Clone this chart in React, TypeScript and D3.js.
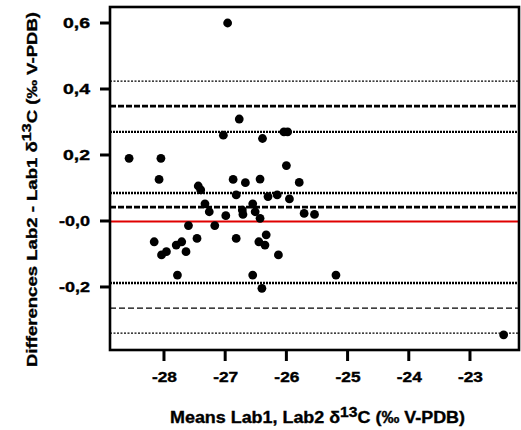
import React from "react";
import * as d3 from "d3";

const meanVals = [
  -28.57, -28.05, -28.08, -27.44, -27.40, -26.87, -26.82, -27.33, -27.26, -26.99,
  -27.60, -27.17, -26.39, -27.03, -26.77, -26.04, -25.98, -26.00, -25.79, -26.43,
  -26.67, -26.30, -26.15, -25.95, -25.71, -25.54, -26.72, -26.55, -26.51, -26.43,
  -28.16, -28.04, -27.96, -27.80, -27.71, -27.64, -27.46, -26.82, -27.78, -26.45,
  -26.33, -26.35, -26.13, -26.55, -26.40, -25.19, -22.45, -26.96, -26.71,
];
const diffVals = [
  0.19, 0.19, 0.126, 0.106, 0.094, 0.126, 0.079, 0.052, 0.028, 0.016,
  -0.014, -0.014, 0.25, 0.26, 0.309, 0.27, 0.27, 0.168, 0.117, 0.127,
  0.116, 0.074, 0.079, 0.067, 0.023, 0.02, 0.033, 0.052, 0.028, 0.008,
  -0.063, -0.103, -0.093, -0.073, -0.063, -0.093, -0.053, -0.053, -0.164, -0.063,
  -0.042, -0.073, -0.103, -0.164, -0.204, -0.164, -0.345, 0.6, 0.02,
];

const xTicks = [-28, -27, -26, -25, -24, -23];
const yTicks = [0.6, 0.4, 0.2, 0.0, -0.2];
const yTickLabels = ["0,6", "0,4", "0,2", "-0,0", "-0,2"];
const xDomain = [-28.882, -22.199];
const yDomain = [-0.391, 0.6485];

// reference lines: value, style
const refVals = [0.424, 0.348, 0.27, 0.085, 0.042, -0.188, -0.264, -0.34];
const refKinds = ["thinDot", "boldDash", "boldDot", "boldDot", "boldDash", "boldDot", "thinDash", "thinDot"];
const zeroVal = [0];

const L = 110, R = 519, T = 7, B = 350;

export default function App() {
  const x = d3.scaleLinear().domain(xDomain).range([L, R]);
  const y = d3.scaleLinear().domain(yDomain).range([B, T]);
  const font = "'Liberation Sans', Arial, sans-serif";

  const styleFor = (k: string) => {
    switch (k) {
      case "thinDot": return { w: 1.4, d: "2,1.5", c: "#000" };
      case "boldDash": return { w: 2.6, d: "6,2", c: "#000" };
      case "boldDot": return { w: 2.4, d: "2,1", c: "#000" };
      case "thinDash": return { w: 1.4, d: "6,3", c: "#000" };
      default: return { w: 1, d: "", c: "#000" };
    }
  };

  const txt = { fontFamily: font, fontWeight: "bold" as const, stroke: "#000", strokeWidth: 0.35 };

  return (
    <svg width={521} height={430} style={{ position: "fixed", left: 0, top: 0, background: "#fff" }}>
      <rect x={0} y={0} width={521} height={430} fill="#fff" />
      {refVals.map((v, i) => {
        const s = styleFor(refKinds[i]);
        return (
          <line key={"r" + i} x1={L} x2={R} y1={y(v)} y2={y(v)} stroke={s.c}
            strokeWidth={s.w} strokeDasharray={s.d} />
        );
      })}
      {zeroVal.map((v, i) => (
        <line key={"z" + i} x1={L} x2={R} y1={y(v) + 0.5} y2={y(v) + 0.5} stroke="#e00000" strokeWidth={2.2} />
      ))}
      {meanVals.map((m, i) => (
        <circle key={"p" + i} cx={x(m)} cy={y(diffVals[i])} r={4.4} fill="#000" />
      ))}
      <rect x={L} y={T} width={R - L} height={B - T} fill="none" stroke="#000" strokeWidth={2.6} />
      {yTicks.map((t, i) => (
        <g key={"yt" + i}>
          <line x1={L - 10} x2={L} y1={y(t)} y2={y(t)} stroke="#000" strokeWidth={3} />
          <text x={90} y={y(t) + 5} textAnchor="end" {...txt} fontSize={14}
            textLength={yTickLabels[i].length === 3 ? 27 : 31} lengthAdjust="spacingAndGlyphs">{yTickLabels[i]}</text>
        </g>
      ))}
      {xTicks.map((t, i) => (
        <g key={"xt" + i}>
          <line x1={x(t)} x2={x(t)} y1={B} y2={B + 11} stroke="#000" strokeWidth={3} />
          <text x={x(t) - 12} y={382} {...txt} fontSize={14}
            textLength={25} lengthAdjust="spacingAndGlyphs">{String(t)}</text>
        </g>
      ))}
      <text x={170} y={423} {...txt} fontSize={16}
        textLength={295} lengthAdjust="spacingAndGlyphs">
        Means Lab1, Lab2 δ<tspan dy={-6} fontSize={14}>13</tspan><tspan dy={6}>C (‰ V-PDB)</tspan>
      </text>
      <text transform="translate(37,367) rotate(-90)" x={0} y={0} {...txt} fontSize={15}
        textLength={355} lengthAdjust="spacingAndGlyphs">
        Differences Lab2 - Lab1 δ<tspan dy={-6} fontSize={13}>13</tspan><tspan dy={6}>C (‰ V-PDB)</tspan>
      </text>
    </svg>
  );
}
